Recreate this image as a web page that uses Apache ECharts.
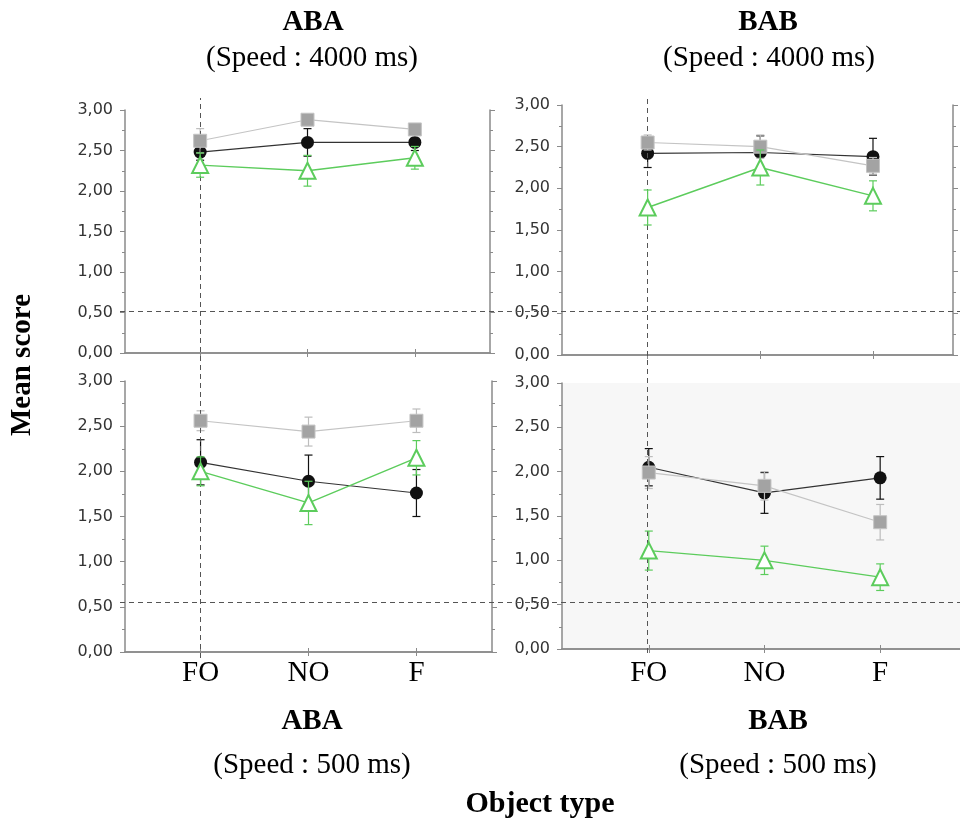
<!DOCTYPE html>
<html>
<head>
<meta charset="utf-8">
<script src="https://cdn.jsdelivr.net/npm/echarts@6/dist/echarts.min.js"></script>
<style>
html, body { margin: 0; padding: 0; background: #fff; }
#chart { width: 960px; height: 821px; }
</style>
</head>
<body>
<div id="chart"></div>
<script>
// object types on the x axis
const categories = ['FO', 'NO', 'F'];

// mean scores (black circles / grey squares / green triangles)
const abaSlowCircle   = [2.48, 2.60, 2.60];
const abaSlowSquare   = [2.62, 2.88, 2.76];
const abaSlowTriangle = [2.32, 2.25, 2.41];
const babSlowCircle   = [2.42, 2.43, 2.38];
const babSlowSquare   = [2.55, 2.50, 2.27];
const babSlowTriangle = [1.77, 2.25, 1.91];
const abaFastCircle   = [2.10, 1.89, 1.76];
const abaFastSquare   = [2.56, 2.44, 2.56];
const abaFastTriangle = [2.00, 1.65, 2.15];
const babFastCircle   = [2.05, 1.76, 1.93];
const babFastSquare   = [1.99, 1.84, 1.43];
const babFastTriangle = [1.11, 1.00, 0.81];

// error bar half lengths
const abaSlowCircleErr   = [0.10, 0.17, 0.10];
const abaSlowSquareErr   = [0.15, 0.06, 0.06];
const abaSlowTriangleErr = [0.15, 0.19, 0.14];
const babSlowCircleErr   = [0.17, 0.20, 0.22];
const babSlowSquareErr   = [0.09, 0.14, 0.10];
const babSlowTriangleErr = [0.21, 0.21, 0.18];
const abaFastCircleErr   = [0.25, 0.29, 0.26];
const abaFastSquareErr   = [0.11, 0.16, 0.13];
const abaFastTriangleErr = [0.16, 0.24, 0.19];
const babFastCircleErr   = [0.21, 0.23, 0.24];
const babFastSquareErr   = [0.18, 0.16, 0.20];
const babFastTriangleErr = [0.22, 0.16, 0.15];

// chance level lines
const chanceSlow = 0.51;
const chanceFast = 0.55;

const AXIS = '#8a8a8a';
const BLACK = '#111';
const GREY = '#a3a3a3';
const GREEN = '#5ccc5c';

const panels = [
  { grid: { left: 125, top: 110, width: 365, height: 243 }, xmin: 0.3, xmax: 3.7, labels: false, right: true },
  { grid: { left: 562, top: 105, width: 391, height: 250 }, xmin: 0.24, xmax: 3.71, labels: false, right: true },
  { grid: { left: 125, top: 381, width: 367, height: 271 }, xmin: 0.3, xmax: 3.7, labels: true, right: true },
  { grid: { left: 562, top: 383, width: 398, height: 266, show: true, backgroundColor: '#f7f7f7', borderWidth: 0 }, xmin: 0.25, xmax: 3.69, labels: true, right: false }
];

const panelData = [
  [abaSlowCircle, abaSlowSquare, abaSlowTriangle, abaSlowCircleErr, abaSlowSquareErr, abaSlowTriangleErr],
  [babSlowCircle, babSlowSquare, babSlowTriangle, babSlowCircleErr, babSlowSquareErr, babSlowTriangleErr],
  [abaFastCircle, abaFastSquare, abaFastTriangle, abaFastCircleErr, abaFastSquareErr, abaFastTriangleErr],
  [babFastCircle, babFastSquare, babFastTriangle, babFastCircleErr, babFastSquareErr, babFastTriangleErr]
];

const fmt = v => v.toFixed(2).replace('.', ',');
const pts = vals => vals.map((v, i) => [i + 1, v]);

const grids = [];
const xAxes = [];
const yAxes = [];
const series = [];

panels.forEach(p => grids.push(p.grid));
// bottom x axes
panels.forEach((p, i) => {
  xAxes.push({
    type: 'value', gridIndex: i, min: p.xmin, max: p.xmax, position: 'bottom',
    axisLine: { show: true, lineStyle: { color: AXIS, width: 1.5 } },
    axisTick: { show: true, customValues: [1, 2, 3], length: 4, lineStyle: { color: AXIS } },
    axisLabel: {
      show: p.labels, customValues: [1, 2, 3], margin: i === 3 ? 10 : 7,
      formatter: v => categories[Math.round(v) - 1] || '',
      fontFamily: 'Liberation Serif', fontSize: 29, color: '#000'
    },
    splitLine: { show: false }
  });
});
// top frame axes
panels.forEach((p, i) => {
  xAxes.push({
    type: 'value', gridIndex: i, min: p.xmin, max: p.xmax, position: 'top',
    axisLine: { show: true, lineStyle: { color: AXIS, width: 1.5 } },
    axisTick: { show: true, customValues: [1, 2, 3], length: 4, lineStyle: { color: AXIS } },
    axisLabel: { show: false },
    splitLine: { show: false }
  });
});
// left y axes
panels.forEach((p, i) => {
  yAxes.push({
    type: 'value', gridIndex: i, min: 0, max: 3, interval: 0.5, position: 'left',
    axisLine: { show: true, lineStyle: { color: AXIS, width: 1.5 } },
    axisTick: { show: true, length: 5, lineStyle: { color: AXIS } },
    minorTick: { show: true, splitNumber: 2, length: 3, lineStyle: { color: AXIS } },
    axisLabel: { formatter: fmt, margin: 12, fontFamily: 'DejaVu Sans', fontSize: 16, color: '#333' },
    splitLine: { show: false }
  });
});
// right frame axes
panels.forEach((p, i) => {
  yAxes.push({
    type: 'value', gridIndex: i, min: 0, max: 3, interval: 0.5, position: 'right', show: p.right,
    axisLine: { show: true, lineStyle: { color: AXIS, width: 1.5 } },
    axisTick: { show: true, length: 5, lineStyle: { color: AXIS } },
    minorTick: { show: true, splitNumber: 2, length: 3, lineStyle: { color: AXIS } },
    axisLabel: { show: false },
    splitLine: { show: false }
  });
});

function errorBars(idx, vals, errs, color, z) {
  return {
    type: 'custom', xAxisIndex: idx, yAxisIndex: idx, z: z, silent: true,
    encode: { x: 0, y: [1, 2] },
    data: vals.map((v, i) => [i + 1, v - errs[i], v + errs[i]]),
    renderItem: function (params, api) {
      const lo = api.coord([api.value(0), api.value(1)]);
      const hi = api.coord([api.value(0), api.value(2)]);
      const w = 4;
      const st = { stroke: color, lineWidth: 1.2 };
      return {
        type: 'group',
        children: [
          { type: 'line', shape: { x1: lo[0], y1: lo[1], x2: hi[0], y2: hi[1] }, style: st },
          { type: 'line', shape: { x1: lo[0] - w, y1: lo[1], x2: lo[0] + w, y2: lo[1] }, style: st },
          { type: 'line', shape: { x1: hi[0] - w, y1: hi[1], x2: hi[0] + w, y2: hi[1] }, style: st }
        ]
      };
    }
  };
}

panelData.forEach((d, i) => {
  const [circle, square, tri, ce, se, te] = d;
  series.push(errorBars(i, circle, ce, BLACK, 2));
  series.push({
    type: 'line', xAxisIndex: i, yAxisIndex: i, z: 3, data: pts(circle),
    symbol: 'circle', symbolSize: 13,
    itemStyle: { color: BLACK }, lineStyle: { color: '#333', width: 1.2 }
  });
  series.push(errorBars(i, square, se, '#bdbdbd', 4));
  series.push({
    type: 'line', xAxisIndex: i, yAxisIndex: i, z: 5, data: pts(square),
    symbol: 'rect', symbolSize: 13,
    itemStyle: { color: GREY, borderColor: '#c4c4c4', borderWidth: 1 }, lineStyle: { color: '#c4c4c4', width: 1.2 }
  });
  series.push(errorBars(i, tri, te, GREEN, 6));
  series.push({
    type: 'line', xAxisIndex: i, yAxisIndex: i, z: 7, data: pts(tri),
    symbol: 'emptyTriangle', symbolSize: 16,
    itemStyle: { color: GREEN, borderColor: GREEN, borderWidth: 1.3 }, lineStyle: { color: GREEN, width: 1.4 }
  });
});

// hidden grids for the dashed reference lines that run across panels
const refGrids = [
  { grid: { left: 120, right: 0, top: 110, height: 243 }, xmin: 0, xmax: 1, mark: { yAxis: chanceSlow } },
  { grid: { left: 120, right: 0, top: 381, height: 271 }, xmin: 0, xmax: 1, mark: { yAxis: chanceFast } },
  { grid: { left: 125, width: 365, top: 98, height: 560 }, xmin: 0.3, xmax: 3.7, mark: { xAxis: 1 } },
  { grid: { left: 562, width: 391, top: 98, height: 555 }, xmin: 0.24, xmax: 3.71, mark: { xAxis: 1 } }
];
refGrids.forEach(r => {
  const gi = grids.length;
  grids.push(r.grid);
  const xi = xAxes.length;
  xAxes.push({ type: 'value', gridIndex: gi, min: r.xmin, max: r.xmax, show: false });
  const yi = yAxes.length;
  yAxes.push({ type: 'value', gridIndex: gi, min: 0, max: 3, show: false });
  series.push({
    type: 'line', xAxisIndex: xi, yAxisIndex: yi, data: [], z: 1,
    markLine: {
      silent: true, symbol: 'none', label: { show: false },
      lineStyle: { color: '#555', width: 1, type: [5, 4] },
      data: [r.mark]
    }
  });
});

const serif = '"Liberation Serif", "Times New Roman", serif';
const texts = [
  ['ABA', 313, 23, 'bold 29px ' + serif],
  ['(Speed : 4000 ms)', 312, 58, '29px ' + serif],
  ['BAB', 768, 23, 'bold 29px ' + serif],
  ['(Speed : 4000 ms)', 769, 58, '29px ' + serif],
  ['ABA', 312, 722, 'bold 29px ' + serif],
  ['(Speed : 500 ms)', 312, 765, '29px ' + serif],
  ['BAB', 778, 722, 'bold 29px ' + serif],
  ['(Speed : 500 ms)', 778, 765, '29px ' + serif],
  ['Object type', 540, 804, 'bold 30px ' + serif]
];
const graphic = texts.map(t => ({
  type: 'text', x: t[1], y: t[2],
  style: { text: t[0], font: t[3], fill: '#000', textAlign: 'center', textVerticalAlign: 'middle' }
}));
graphic.push({
  type: 'text', x: 23, y: 365, rotation: Math.PI / 2,
  style: { text: 'Mean score', font: 'bold 29px ' + serif, fill: '#000', textAlign: 'center', textVerticalAlign: 'middle' }
});

const chart = echarts.init(document.getElementById('chart'));
chart.setOption({
  animation: false,
  backgroundColor: '#fff',
  grid: grids,
  xAxis: xAxes,
  yAxis: yAxes,
  series: series,
  graphic: graphic
});
</script>
</body>
</html>
